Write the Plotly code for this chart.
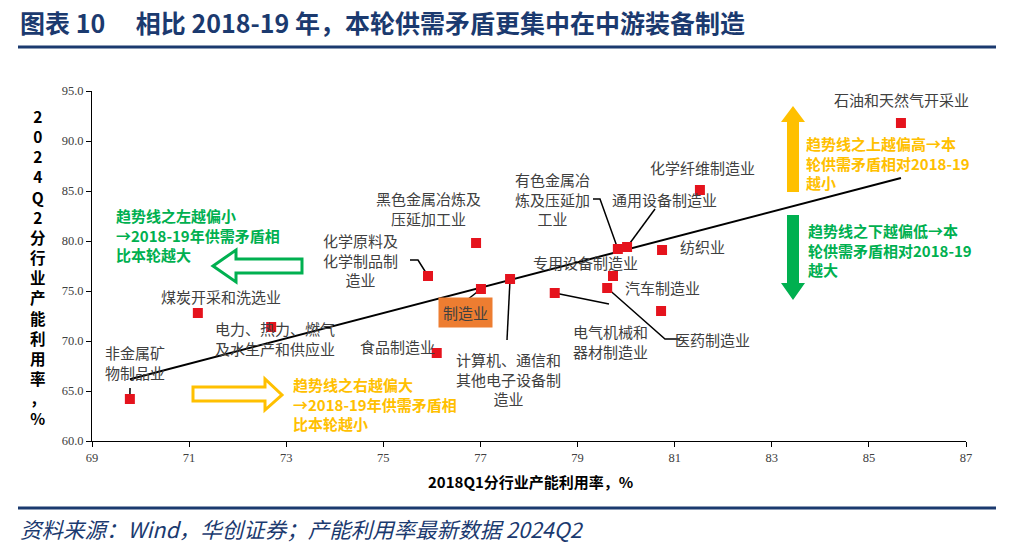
import numpy as np
import plotly.graph_objects as go

# ---------------- data ----------------
industries = [
    "非金属矿物制品业", "煤炭开采和洗选业", "电力、热力、燃气及水生产和供应业",
    "化学原料及化学制品制造业", "黑色金属冶炼及压延加工业", "食品制造业",
    "计算机、通信和其他电子设备制造业", "电气机械和器材制造业", "专用设备制造业",
    "医药制造业", "汽车制造业", "有色金属冶炼及压延加工业", "通用设备制造业",
    "纺织业", "化学纤维制造业", "石油和天然气开采业",
]
util_2018q1 = [69.78, 71.18, 72.69, 75.92, 76.91, 76.10, 77.61, 78.53, 79.73,
               79.61, 80.72, 79.83, 80.02, 80.74, 81.52, 85.66]
util_2024q2 = [64.2, 72.8, 71.4, 76.5, 79.8, 68.8, 76.2, 74.8, 76.5,
               75.3, 73.0, 79.2, 79.4, 79.1, 85.1, 91.8]
mfg_name = "制造业"
mfg_2018q1 = [77.01]
mfg_2024q2 = [75.2]

x_ticks = [69, 71, 73, 75, 77, 79, 81, 83, 85, 87]
y_ticks = [60, 65, 70, 75, 80, 85, 90, 95]

# ---------------- layout helpers (pixel -> coords) ----------------
X0, X1, Y0, Y1 = 69, 87, 60, 95
L, R, T, B = 92, 966, 91, 441


def dx(px):
    return X0 + (px - L) / (R - L) * (X1 - X0)


def dy(py):
    return Y1 - (py - T) / (B - T) * (Y1 - Y0)


def ppx(px):
    return (px - L) / (R - L)


def ppy(py):
    return (B - py) / (B - T)


def paper_path(pts):
    s = "M" + " L".join(f"{ppx(a):.5f},{ppy(b):.5f}" for a, b in pts) + " Z"
    return s


LABEL_FONT = dict(family="Noto Sans CJK SC", size=15, color="#404040")
NAVY = "#1B3A6F"
GREEN = "#00B050"
YELLOW = "#FFC000"

fig = go.Figure()

# trend line (least squares on all industries)
xs = np.array(util_2018q1 + mfg_2018q1)
ys = np.array(util_2024q2 + mfg_2024q2)
k, b0 = np.polyfit(xs, ys, 1)
xl = np.array([xs.min(), xs.max()])
fig.add_trace(go.Scatter(x=xl, y=k * xl + b0, mode="lines",
                         line=dict(color="black", width=2), hoverinfo="skip",
                         showlegend=False))

fig.add_trace(go.Scatter(x=util_2018q1 + mfg_2018q1, y=util_2024q2 + mfg_2024q2,
                         mode="markers", text=industries + [mfg_name],
                         marker=dict(symbol="square", size=10, color="#E5131D"),
                         showlegend=False, cliponaxis=False))

# labels: (text, center px, center py)
labels = [
    ("非金属矿<br>物制品业", 135, 362),
    ("煤炭开采和洗选业", 221, 296),
    ("电力、热力、燃气<br>及水生产和供应业", 275, 338),
    ("化学原料及<br>化学制品制<br>造业", 360, 260),
    ("黑色金属冶炼及<br>压延加工业", 428, 208),
    ("食品制造业", 397, 346),
    ("计算机、通信和<br>其他电子设备制<br>造业", 508, 379),
    ("电气机械和<br>器材制造业", 610, 341),
    ("专用设备制造业", 585, 262),
    ("医药制造业", 712, 339),
    ("汽车制造业", 662, 287),
    ("有色金属冶<br>炼及压延加<br>工业", 552, 199),
    ("通用设备制造业", 664, 199),
    ("纺织业", 702, 246),
    ("化学纤维制造业", 702, 167),
    ("石油和天然气开采业", 901, 99),
]
for txt, px, py in labels:
    fig.add_annotation(x=dx(px), y=dy(py), xref="x", yref="y", text=txt,
                       showarrow=False, font=LABEL_FONT, align="center",
                       xanchor="center", yanchor="middle")

fig.add_annotation(x=dx(465), y=dy(312), xref="x", yref="y", text=mfg_name,
                   showarrow=False, font=LABEL_FONT, bgcolor="#ED7D31",
                   borderpad=4, xanchor="center", yanchor="middle")

# leader lines: (industry index or -1 for 制造业, pixel points after the marker)
leaders = [
    (0, [(130, 388)]),
    (3, [(418, 260), (410, 260)]),
    (11, [(600, 199), (593, 199)]),
    (12, [(655, 209)]),
    (9, [(665, 339), (680, 339)]),
    (7, [(609, 304)]),
    (6, [(507, 340)]),
    (-1, [(467, 300)]),
]
for idx, pts in leaders:
    if idx >= 0:
        sx, sy = util_2018q1[idx], util_2024q2[idx]
    else:
        sx, sy = mfg_2018q1[0], mfg_2024q2[0]
    path = f"M{sx},{sy}" + "".join(f" L{dx(a):.4f},{dy(b):.4f}" for a, b in pts)
    fig.add_shape(type="path", path=path, xref="x", yref="y",
                  line=dict(color="black", width=1.5), layer="below")

# arrows
fig.add_shape(type="path", xref="paper", yref="paper",
              path=paper_path([(302, 259), (236, 259), (236, 250), (213, 266),
                               (236, 282), (236, 273), (302, 273)]),
              line=dict(color=GREEN, width=3), fillcolor="white")
fig.add_shape(type="path", xref="paper", yref="paper",
              path=paper_path([(193, 387), (265, 387), (265, 379), (282, 395),
                               (265, 410), (265, 401), (193, 401)]),
              line=dict(color=YELLOW, width=3), fillcolor="white")
fig.add_shape(type="path", xref="paper", yref="paper",
              path=paper_path([(787, 192), (787, 122), (781, 122), (793, 106),
                               (805, 122), (799, 122), (799, 192)]),
              line=dict(color=YELLOW, width=0), fillcolor=YELLOW)
fig.add_shape(type="path", xref="paper", yref="paper",
              path=paper_path([(787, 215), (787, 283), (781, 283), (793, 300),
                               (805, 283), (799, 283), (799, 215)]),
              line=dict(color=GREEN, width=0), fillcolor=GREEN)

NOTE = dict(family="Noto Sans CJK SC", size=15)
notes = [
    ("<b>趋势线之左越偏小<br>→2018-19年供需矛盾相<br>比本轮越大</b>", 114, 235, GREEN),
    ("<b>趋势线之右越偏大<br>→2018-19年供需矛盾相<br>比本轮越小</b>", 291, 404, YELLOW),
    ("<b>趋势线之上越偏高→本<br>轮供需矛盾相对2018-19<br>越小</b>", 804, 163, YELLOW),
    ("<b>趋势线之下越偏低→本<br>轮供需矛盾相对2018-19<br>越大</b>", 806, 250, GREEN),
]
for txt, px, py, col in notes:
    fig.add_annotation(x=ppx(px), y=ppy(py), xref="paper", yref="paper",
                       text=txt, showarrow=False, xanchor="left", yanchor="middle",
                       align="left", font=dict(**NOTE, color=col))

# title, rules, source
fig.add_annotation(x=ppx(18), y=ppy(22), xref="paper", yref="paper",
                   text="<b>图表 10　 相比 2018-19 年，本轮供需矛盾更集中在中游装备制造</b>",
                   showarrow=False, xanchor="left", yanchor="middle",
                   font=dict(family="Noto Sans CJK SC", size=25, color=NAVY))
for yy in (47, 508):
    fig.add_shape(type="line", xref="paper", yref="paper",
                  x0=ppx(18), x1=ppx(996), y0=ppy(yy), y1=ppy(yy),
                  line=dict(color=NAVY, width=3))
fig.add_annotation(x=ppx(18), y=ppy(528), xref="paper", yref="paper",
                   text="<i>资料来源：Wind，华创证券；产能利用率最新数据 2024Q2</i>",
                   showarrow=False, xanchor="left", yanchor="middle",
                   font=dict(family="Noto Sans CJK SC", size=21.5, color=NAVY))

# axis titles
ytitle = "<br>".join(list("2024Q2分行业产能利用率，%"))
fig.add_annotation(x=ppx(38), y=ppy(267), xref="paper", yref="paper",
                   text=f"<b>{ytitle}</b>", showarrow=False,
                   xanchor="center", yanchor="middle",
                   font=dict(family="Noto Sans CJK SC", size=15.5, color="black"),
                   align="center")
fig.add_annotation(x=ppx(530), y=ppy(481), xref="paper", yref="paper",
                   text="<b>2018Q1分行业产能利用率，%</b>", showarrow=False,
                   xanchor="center", yanchor="middle",
                   font=dict(family="Noto Sans CJK SC", size=15, color="black"))

TICKFONT = dict(family="Liberation Serif", size=12.5, color="#404040")
fig.update_xaxes(range=[X0, X1], tickvals=x_ticks, ticks="outside", ticklen=5,
                 showline=True, linecolor="black", linewidth=1, showgrid=False,
                 zeroline=False, tickfont=TICKFONT, tickcolor="black")
fig.update_yaxes(range=[Y0, Y1], tickvals=y_ticks, tickformat=".1f",
                 ticks="outside", ticklen=5, showline=True, linecolor="black",
                 linewidth=1, showgrid=False, zeroline=False, tickfont=TICKFONT,
                 tickcolor="black")

fig.update_layout(width=1010, height=547, plot_bgcolor="white",
                  paper_bgcolor="white",
                  margin=dict(l=L, r=1010 - R, t=T, b=547 - B, autoexpand=False),
                  showlegend=False)

fig.write_html("out.html", config={"displayModeBar": False},
               post_script="document.body.style.margin='0px';"
                           "document.body.style.overflow='hidden';")
